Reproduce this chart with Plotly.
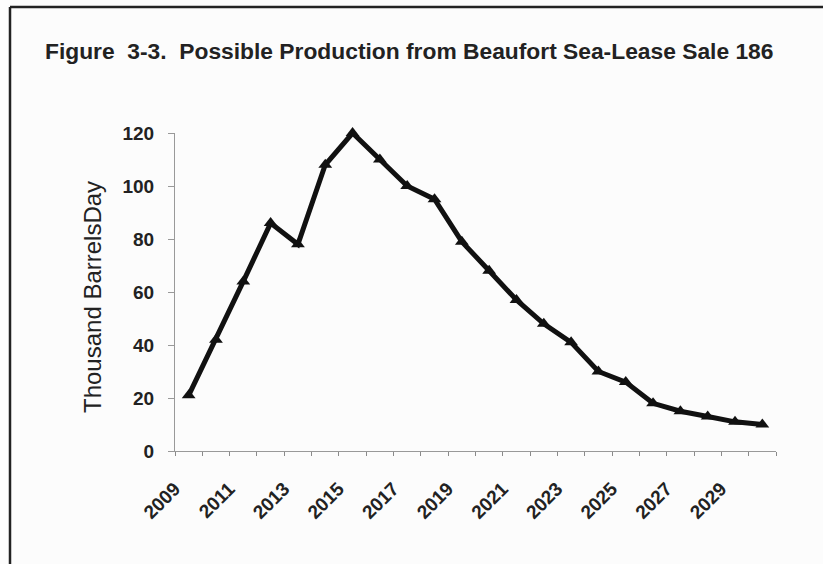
import plotly.graph_objects as go

years = list(range(2009, 2031))
production = [21, 42, 64, 86, 78, 108, 120, 110, 100, 95, 79, 68, 57, 48, 41, 30, 26, 18, 15, 13, 11, 10]
tick_years = years[::2]
tick_labels = [str(y) for y in tick_years]
y_ticks = [0, 20, 40, 60, 80, 100, 120]

title_text = "Figure  3-3.  Possible Production from Beaufort Sea-Lease Sale 186"
y_title = "Thousand BarrelsDay"

W, H = 823, 564
L, R, T, B = 175, 47, 133, 113
pw = W - L - R
ph = H - T - B

font = "Arial, Liberation Sans, Helvetica, sans-serif"
x_range = [years[0] - 0.5, years[-1] + 0.5]

fig = go.Figure()
fig.add_trace(go.Scatter(
    x=years, y=production, mode="lines+markers",
    line=dict(color="#111111", width=5),
    marker=dict(symbol="triangle-up", size=12, color="#111111"),
    cliponaxis=False, showlegend=False, xaxis="x", yaxis="y",
))
# label-only axis sharing the same scale
fig.add_trace(go.Scatter(x=[], y=[], xaxis="x2", yaxis="y", showlegend=False,
                         hoverinfo="skip"))

def px_x(p):
    return (p - L) / pw

def px_y(p):
    return (H - B - p) / ph

fig.update_layout(
    width=W, height=H,
    margin=dict(l=L, r=R, t=T, b=B),
    paper_bgcolor="#fcfcfc", plot_bgcolor="#fcfcfc",
    title=dict(text="<b>" + title_text + "</b>", x=45 / W, xanchor="left",
               y=1 - 51 / H, yanchor="middle", xref="container", yref="container",
               font=dict(family=font, size=22.8, color="#222222")),
    xaxis=dict(range=x_range, tickmode="linear", tick0=x_range[0], dtick=1,
               showticklabels=False, ticks="outside", ticklen=4, tickwidth=1,
               tickcolor="#8a8a8a", showgrid=False, zeroline=False,
               showline=True, linecolor="#999999", linewidth=1),
    xaxis2=dict(range=x_range, overlaying="x", side="bottom", anchor="y",
                tickmode="array", tickvals=tick_years, ticktext=tick_labels,
                tickangle=-45, ticks="", showgrid=False, zeroline=False, showline=False,
                ticklabelstandoff=22, ticklabelshift=-14,
                tickfont=dict(family=font, size=19, color="#222222", weight="bold")),
    yaxis=dict(range=[0, 120], tickvals=y_ticks, showgrid=False, zeroline=False,
               showline=True, linecolor="#999999", linewidth=1,
               ticks="outside", ticklen=6, tickcolor="#999999",
               ticklabelstandoff=10,
               tickfont=dict(family=font, size=19, color="#222222", weight="bold")),
    annotations=[dict(text=y_title, textangle=-90, x=px_x(92), y=px_y(297),
                      xref="paper", yref="paper", showarrow=False,
                      xanchor="center", yanchor="middle",
                      font=dict(family=font, size=24, color="#222222"))],
    shapes=[
        dict(type="line", xref="paper", yref="paper", x0=px_x(10), x1=px_x(823),
             y0=px_y(7), y1=px_y(7), line=dict(color="#222222", width=2.5)),
        dict(type="line", xref="paper", yref="paper", x0=px_x(10), x1=px_x(10),
             y0=px_y(7), y1=px_y(564), line=dict(color="#222222", width=2.5)),
    ],
)

fig.write_html("out.html", config={"displayModeBar": False},
               post_script="document.body.style.margin='0';")
